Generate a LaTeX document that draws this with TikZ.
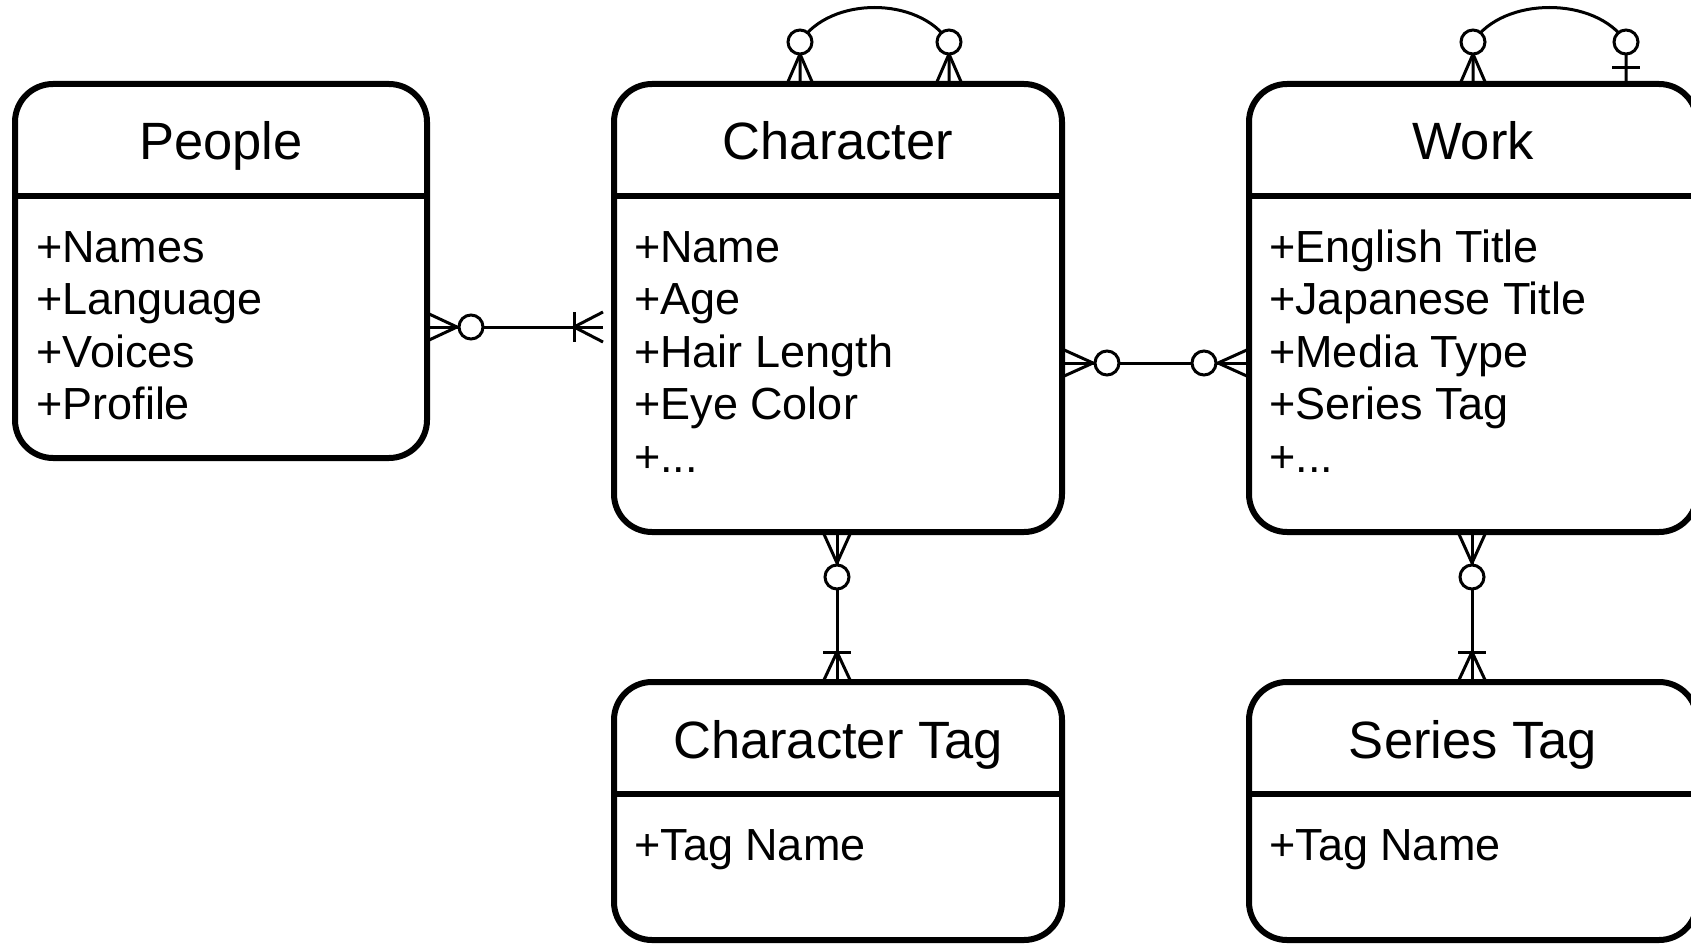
\documentclass[tikz,border=0pt]{standalone}
\usepackage{fontspec}
\setmainfont{Liberation Sans}
\usetikzlibrary{calc}
\newcommand\plusdots{+...}
\tikzset{
  entity/.style={draw, line width=6pt, rounded corners=38pt, inner sep=0pt, outer sep=0pt, anchor=north west},
  divider/.style={line width=6pt},
  etitle/.style={anchor=base, inner sep=0pt, font=\fontsize{52.5}{60}\selectfont},
  eattr/.style={anchor=base west, inner sep=0pt, font=\fontsize{45}{52}\selectfont},
  conn/.style={line width=3pt},
  ocirc/.style={circle, draw, fill=white, line width=3pt, minimum size=24pt, inner sep=0pt},
}
\begin{document}
\begin{tikzpicture}[x=1pt, y=-1pt]
\useasboundingbox (0,0) rectangle (1691,944);
\clip (0,0) rectangle (1691,944);
\fill[white] (0,0) rectangle (1691,944);

% ---------- entities ----------
\node[entity, minimum width=412pt, minimum height=374pt] (people) at (15,84) {};
\node[entity, minimum width=448pt, minimum height=448pt] (char) at (614,84) {};
\node[entity, minimum width=448pt, minimum height=448pt] (work) at (1249,84) {};
\node[entity, minimum width=448pt, minimum height=258pt] (ctag) at (614,682) {};
\node[entity, minimum width=448pt, minimum height=258pt] (stag) at (1249,682) {};

\foreach \e in {people,char,work,ctag,stag}{
  \draw[divider] ($(\e.north west)+(0,112)$) -- ($(\e.north east)+(0,112)$);
}

\node[etitle] (peopleT) at ($(people.north)+(0,76)$) {People};
\node[etitle] (charT) at ($(char.north)+(0,76)$) {Character};
\node[etitle] (workT) at ($(work.north)+(0,76)$) {Work};
\node[etitle] (ctagT) at ($(ctag.north)+(0,76)$) {Character Tag};
\node[etitle] (stagT) at ($(stag.north)+(0,76)$) {Series Tag};

\foreach \t [count=\i from 0] in {+Names,+Language,+Voices,+Profile}{
  \node[eattr] (peopleA\i) at ($(people.north west)+(21,178+52.5*\i)$) {\t};
}
\foreach \t [count=\i from 0] in {+Name,+Age,+Hair Length,+Eye Color,\plusdots}{
  \node[eattr] (charA\i) at ($(char.north west)+(20,178+52.5*\i)$) {\t};
}
\foreach \t [count=\i from 0] in {+English Title,+Japanese Title,+Media Type,+Series Tag,\plusdots}{
  \node[eattr] (workA\i) at ($(work.north west)+(20,178+52.5*\i)$) {\t};
}
\node[eattr] (ctagA0) at ($(ctag.north west)+(20,178)$) {+Tag Name};
\node[eattr] (stagA0) at ($(stag.north west)+(20,178)$) {+Tag Name};

% ---------- People -- Character ----------
\coordinate (pc) at ($(people.north east)+(0,243)$);
\coordinate (cp) at ($(char.north west)+(-11,243)$);
\draw[conn] (pc) -- (cp);
\draw[conn] ($(pc)+(0,-14)$) -- ($(pc)+(30,0)$) -- ($(pc)+(0,14)$);
\node[ocirc] (pcO) at ($(pc)+(44,0)$) {};
\draw[conn] ($(cp)+(0,-15)$) -- ($(cp)+(-29,0)$) -- ($(cp)+(0,15)$);
\draw[conn] ($(cp)+(-29,-15)$) -- ($(cp)+(-29,15)$);

% ---------- Character -- Work ----------
\coordinate (cw) at ($(char.north east)+(0,279)$);
\coordinate (wc) at ($(work.north west)+(0,279)$);
\draw[conn] (cw) -- (wc);
\draw[conn] ($(cw)+(0,-14)$) -- ($(cw)+(31,0)$) -- ($(cw)+(0,14)$);
\node[ocirc] (cwO) at ($(cw)+(45,0)$) {};
\draw[conn] ($(wc)+(0,-14)$) -- ($(wc)+(-31,0)$) -- ($(wc)+(0,14)$);
\node[ocirc] (wcO) at ($(wc)+(-45,0)$) {};

% ---------- Character -- Character Tag ----------
\coordinate (ct) at ($(char.south west)+(223,0)$);
\coordinate (tc) at (ct |- ctag.north);
\draw[conn] (ct) -- (tc);
\draw[conn] ($(ct)+(-14,0)$) -- ($(ct)+(0,31)$) -- ($(ct)+(14,0)$);
\node[ocirc] (ctO) at ($(ct)+(0,45)$) {};
\draw[conn] ($(tc)+(-14,0)$) -- ($(tc)+(0,-30)$) -- ($(tc)+(14,0)$);
\draw[conn] ($(tc)+(-14,-30)$) -- ($(tc)+(14,-30)$);

% ---------- Work -- Series Tag ----------
\coordinate (ws) at ($(work.south west)+(223,0)$);
\coordinate (sw) at (ws |- stag.north);
\draw[conn] (ws) -- (sw);
\draw[conn] ($(ws)+(-14,0)$) -- ($(ws)+(0,31)$) -- ($(ws)+(14,0)$);
\node[ocirc] (wsO) at ($(ws)+(0,45)$) {};
\draw[conn] ($(sw)+(-14,0)$) -- ($(sw)+(0,-30)$) -- ($(sw)+(14,0)$);
\draw[conn] ($(sw)+(-14,-30)$) -- ($(sw)+(14,-30)$);

% ---------- Character self relation ----------
\coordinate (cl) at ($(char.north west)+(186,0)$);
\coordinate (cr) at ($(char.north west)+(335,0)$);
\coordinate (cla) at ($(cl)+(0,-42)$);
\coordinate (cra) at ($(cr)+(0,-42)$);
\draw[conn] (cl) -- (cla) .. controls ($(cla)+(30,-46)$) and ($(cra)+(-30,-46)$) .. (cra) -- (cr);
\draw[conn] ($(cl)+(-13,0)$) -- ($(cl)+(0,-30)$) -- ($(cl)+(13,0)$);
\draw[conn] ($(cr)+(-13,0)$) -- ($(cr)+(0,-30)$) -- ($(cr)+(13,0)$);
\node[ocirc] (clO) at (cla) {};
\node[ocirc] (crO) at (cra) {};

% ---------- Work self relation ----------
\coordinate (wl) at ($(work.north west)+(224,0)$);
\coordinate (wr) at ($(work.north west)+(377,0)$);
\coordinate (wla) at ($(wl)+(0,-42)$);
\coordinate (wra) at ($(wr)+(0,-42)$);
\draw[conn] (wl) -- (wla) .. controls ($(wla)+(30,-46)$) and ($(wra)+(-30,-46)$) .. (wra) -- (wr);
\draw[conn] ($(wl)+(-13,0)$) -- ($(wl)+(0,-30)$) -- ($(wl)+(13,0)$);
\draw[conn] ($(wr)+(-14,-16)$) -- ($(wr)+(14,-16)$);
\node[ocirc] (wlO) at (wla) {};
\node[ocirc] (wrO) at (wra) {};
\end{tikzpicture}
\end{document}
